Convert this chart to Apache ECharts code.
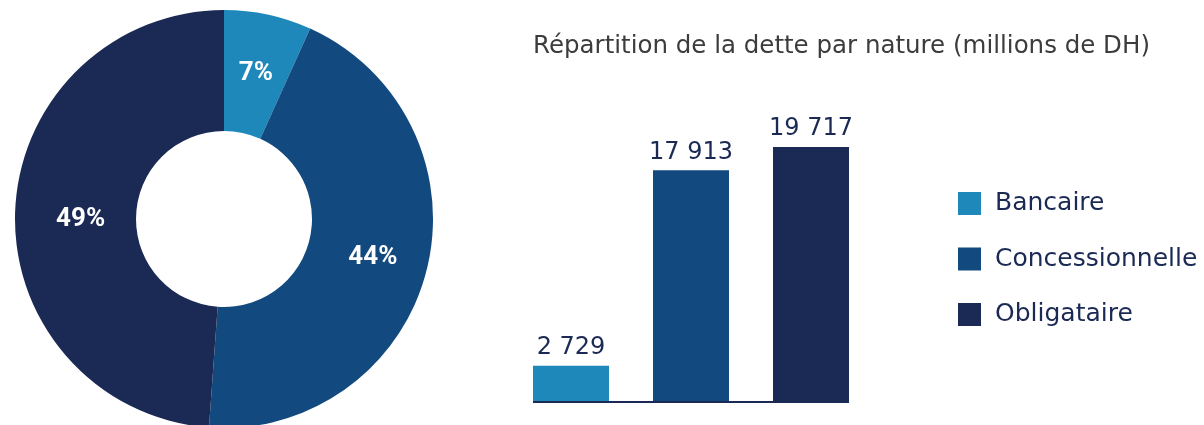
<!DOCTYPE html>
<html><head><meta charset="utf-8">
<script src="https://cdn.jsdelivr.net/npm/echarts@6/dist/echarts.min.js"></script>
<style>html,body{margin:0;padding:0;background:#fff}#c{width:1204px;height:425px}</style>
</head><body><div id="c"></div>
<script>
const categories = ['Bancaire', 'Concessionnelle', 'Obligataire'];
const values = [2729, 17913, 19717];
const colors = ['#1f88bb', '#12497f', '#1b2a54'];
const titleText = 'Répartition de la dette par nature (millions de DH)';

const navy = '#1b2a54';
const fmt = v => String(v).replace(/\B(?=(\d{3})+(?!\d))/g, ' ');

const chart = echarts.init(document.getElementById('c'), null, {renderer: 'canvas'});
const pieLabelNudge = {Bancaire: [0, 3], Concessionnelle: [2, 1], Obligataire: [8, 6]};
const option = {
  animation: false,
  backgroundColor: '#fff',
  title: {
    text: titleText, left: 528, top: 29,
    textStyle: {fontFamily: 'DejaVu Sans', fontSize: 24.5, fontWeight: 'normal', color: '#3c3c3c'}
  },
  legend: {
    orient: 'vertical', left: 953, top: 186,
    icon: 'rect', itemWidth: 23, itemHeight: 23, itemGap: 30.5,
    data: categories,
    textStyle: {fontFamily: 'DejaVu Sans', fontSize: 25, color: navy, padding: [0, 0, 0, 9]}
  },
  grid: {left: 511, width: 360, top: 143.4, bottom: 24},
  xAxis: {
    type: 'category', data: categories,
    axisLine: {show: false}, axisTick: {show: false}, axisLabel: {show: false}
  },
  yAxis: {type: 'value', min: 0, max: 20000, show: false, splitLine: {show: false}},
  series: [
    {
      type: 'pie', center: [224, 219], radius: [88, 209],
      startAngle: 90, clockwise: true,
      itemStyle: {borderWidth: 0},
      label: {
        show: true, position: 'inside', color: '#fff',
        fontFamily: 'Roboto', fontWeight: 'bold', fontSize: 26,
        formatter: p => Math.round(p.percent) + '%'
      },
      labelLine: {show: false},
      data: categories.map((n, i) => ({
        name: n, value: values[i], itemStyle: {color: colors[i]},
        label: {offset: pieLabelNudge[n]}
      }))
    },
    {
      type: 'bar', barWidth: 76,
      data: values.map((v, i) => ({value: v, itemStyle: {color: colors[i]}})),
      label: {
        show: true, position: 'top', distance: 6, color: navy,
        fontFamily: 'DejaVu Sans', fontSize: 24,
        formatter: p => fmt(p.value)
      }
    }
  ]
};
chart.setOption(option);

// baseline under bars, from first bar's left edge to last bar's right edge
const p0 = chart.convertToPixel({gridIndex: 0}, [0, 0]);
const p2 = chart.convertToPixel({gridIndex: 0}, [categories.length - 1, 0]);
chart.setOption({
  graphic: [{
    type: 'line', z: 10,
    shape: {x1: p0[0] - 38, y1: p0[1] + 1, x2: p2[0] + 38, y2: p2[1] + 1},
    style: {stroke: navy, lineWidth: 2}
  }]
});
</script></body></html>
